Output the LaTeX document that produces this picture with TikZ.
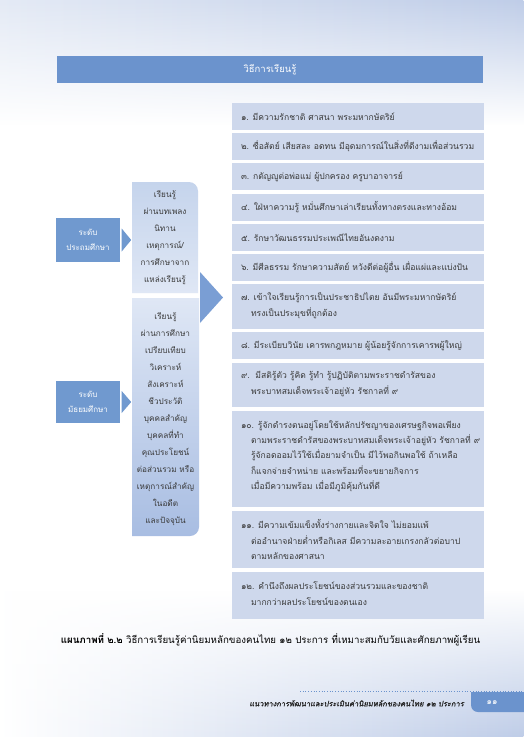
\documentclass[tikz,border=0pt]{standalone}
\usepackage{fontspec}
\newfontfamily\thai[Script=Thai]{Loma}
\newfontfamily\thaibold[Script=Thai]{Loma Bold}
\newfontfamily\thaiit[Script=Thai,FakeSlant=0.2,FakeBold=1.2]{Loma}
\usetikzlibrary{fadings}
\definecolor{headblue}{HTML}{6B93CD}
\definecolor{lvlblue}{HTML}{7099CF}
\definecolor{boxfill}{HTML}{CED8EC}
\definecolor{txtgray}{HTML}{3A3A3A}
\definecolor{bgA}{HTML}{E4EAF5}
\definecolor{bgB}{HTML}{BFCDE8}
\definecolor{arrowblue}{HTML}{7A9ED4}
\definecolor{midA}{HTML}{C5D4EC}
\definecolor{midB}{HTML}{DFE7F5}
\definecolor{midC}{HTML}{A8BDE2}
\tikzset{
  rbox/.style={fill=boxfill, minimum width=252pt, inner sep=0pt},
  rtxt/.style={anchor=west, inner sep=0pt, align=left, text=txtgray, font=\thai\fontsize{8.6}{15.3}\selectfont},
  lvlbox/.style={fill=lvlblue, minimum width=64pt, minimum height=44pt, inner sep=0pt, align=center,
    text=white, font=\thai\fontsize{8}{15}\selectfont},
  midtext/.style={align=center, text=txtgray, inner sep=0pt, font=\thai\fontsize{8.2}{17}\selectfont},
  chev/.style={fill=lvlblue},
}
\begin{document}
\begin{tikzpicture}[x=1pt,y=-1pt]
\useasboundingbox (0,0) rectangle (524,737);
\fill[white] (0,0) rectangle (524,737);
% background sweeps
\shade[left color=bgA, right color=bgB, path fading=south] (0,0) rectangle (524,125);
\shade[left color=white, right color=bgB, path fading=north] (0,590) rectangle (524,737);

% header
\node[fill=headblue, minimum width=426pt, minimum height=27pt, inner sep=0pt, text=white,
  font=\thai\fontsize{9.5}{11}\selectfont] (head) at (270,69.5) {วิธีการเรียนรู้};

% right boxes
\node[rbox, minimum height=27pt] (r1) at (358,116.5) {};
\node[rbox, minimum height=27pt] (r2) at (358,146.5) {};
\node[rbox, minimum height=27pt] (r3) at (358,176.5) {};
\node[rbox, minimum height=27pt] (r4) at (358,207.5) {};
\node[rbox, minimum height=27pt] (r5) at (358,237.5) {};
\node[rbox, minimum height=27pt] (r6) at (358,267.5) {};
\node[rbox, minimum height=45pt] (r7) at (358,306.5) {};
\node[rbox, minimum height=27pt] (r8) at (358,345.5) {};
\node[rbox, minimum height=44pt] (r9) at (358,385) {};
\node[rbox, minimum height=96pt] (r10) at (358,459) {};
\node[rbox, minimum height=57pt] (r11) at (358,539.5) {};
\node[rbox, minimum height=47pt] (r12) at (358,595.5) {};

\node[rtxt] (t1) at ([xshift=9pt]r1.west) {๑. มีความรักชาติ ศาสนา พระมหากษัตริย์};
\node[rtxt] (t2) at ([xshift=9pt]r2.west) {๒. ซื่อสัตย์ เสียสละ อดทน มีอุดมการณ์ในสิ่งที่ดีงามเพื่อส่วนรวม};
\node[rtxt] (t3) at ([xshift=9pt]r3.west) {๓. กตัญญูต่อพ่อแม่ ผู้ปกครอง ครูบาอาจารย์};
\node[rtxt] (t4) at ([xshift=9pt]r4.west) {๔. ใฝ่หาความรู้ หมั่นศึกษาเล่าเรียนทั้งทางตรงและทางอ้อม};
\node[rtxt] (t5) at ([xshift=9pt]r5.west) {๕. รักษาวัฒนธรรมประเพณีไทยอันงดงาม};
\node[rtxt] (t6) at ([xshift=9pt]r6.west) {๖. มีศีลธรรม รักษาความสัตย์ หวังดีต่อผู้อื่น เผื่อแผ่และแบ่งปัน};
\node[rtxt] (t7) at ([xshift=9pt,yshift=1pt]r7.west) {๗. เข้าใจเรียนรู้การเป็นประชาธิปไตย อันมีพระมหากษัตริย์\\\hspace*{10pt}ทรงเป็นประมุขที่ถูกต้อง};
\node[rtxt] (t8) at ([xshift=9pt]r8.west) {๘. มีระเบียบวินัย เคารพกฎหมาย ผู้น้อยรู้จักการเคารพผู้ใหญ่};
\node[rtxt] (t9) at ([xshift=9pt,yshift=1pt]r9.west) {๙.\ \ มีสติรู้ตัว รู้คิด รู้ทำ รู้ปฏิบัติตามพระราชดำรัสของ\\\hspace*{10pt}พระบาทสมเด็จพระเจ้าอยู่หัว รัชกาลที่ ๙};
\node[rtxt] (t10) at ([xshift=9pt,yshift=3pt]r10.west) {๑๐. รู้จักดำรงตนอยู่โดยใช้หลักปรัชญาของเศรษฐกิจพอเพียง\\\hspace*{10pt}ตามพระราชดำรัสของพระบาทสมเด็จพระเจ้าอยู่หัว รัชกาลที่ ๙\\\hspace*{10pt}รู้จักอดออมไว้ใช้เมื่อยามจำเป็น มีไว้พอกินพอใช้ ถ้าเหลือ\\\hspace*{10pt}ก็แจกจ่ายจำหน่าย และพร้อมที่จะขยายกิจการ\\\hspace*{10pt}เมื่อมีความพร้อม เมื่อมีภูมิคุ้มกันที่ดี};
\node[rtxt] (t11) at ([xshift=9pt]r11.west) {๑๑. มีความเข้มแข็งทั้งร่างกายและจิตใจ ไม่ยอมแพ้\\\hspace*{10pt}ต่ออำนาจฝ่ายต่ำหรือกิเลส มีความละอายเกรงกลัวต่อบาป\\\hspace*{10pt}ตามหลักของศาสนา};
\node[rtxt] (t12) at ([xshift=9pt,yshift=2pt]r12.west) {๑๒. คำนึงถึงผลประโยชน์ของส่วนรวมและของชาติ\\\hspace*{10pt}มากกว่าผลประโยชน์ของตนเอง};

% middle boxes
\shade[top color=midA, bottom color=midB] (132,293) -- (132,182) -- (189,182) arc[start angle=270,end angle=360,radius=9] -- (198,293) -- cycle;
\shade[top color=midB, bottom color=midC] (132,298) -- (199,298) -- (199,527) arc[start angle=0,end angle=90,radius=9] -- (132,536) -- cycle;
\node[midtext] (m1) at (165,237.5) {เรียนรู้\\ผ่านบทเพลง\\นิทาน\\เหตุการณ์/\\การศึกษาจาก\\แหล่งเรียนรู้};
\node[midtext] (m2) at (165.5,419) {เรียนรู้\\ผ่านการศึกษา\\เปรียบเทียบ\\วิเคราะห์\\สังเคราะห์\\ชีวประวัติ\\บุคคลสำคัญ\\บุคคลที่ทำ\\คุณประโยชน์\\ต่อส่วนรวม หรือ\\เหตุการณ์สำคัญ\\ในอดีต\\และปัจจุบัน};

% big arrow
\coordinate (ba) at (200,272);
\coordinate (bb) at (200,323);
\coordinate (bt) at (223,297.5);
\fill[arrowblue] (ba) -- (bt) -- (bb) -- cycle;

% level boxes
\node[lvlbox] (l1) at (88,240) {ระดับ\\ประถมศึกษา};
\node[lvlbox, minimum height=42pt] (l2) at (88,402) {ระดับ\\มัธยมศึกษา};
\fill[chev] ([xshift=1.5pt,yshift=11.5pt]l1.east) -- ([xshift=11pt]l1.east) -- ([xshift=1.5pt,yshift=-11.5pt]l1.east) -- cycle;
\fill[chev] ([xshift=1.5pt,yshift=11pt]l2.east) -- ([xshift=11pt]l2.east) -- ([xshift=1.5pt,yshift=-11pt]l2.east) -- cycle;

% caption
\node[inner sep=0pt, text=black, font=\thai\fontsize{9.7}{11}\selectfont] (cap) at (270.5,640)
  {{\thaibold แผนภาพที่ ๒.๒} วิธีการเรียนรู้ค่านิยมหลักของคนไทย ๑๒ ประการ ที่เหมาะสมกับวัยและศักยภาพผู้เรียน};

% footer
\coordinate (dl) at (300,691);
\coordinate (dr) at (524,691);
\draw[headblue, dotted, line width=0.7pt] (dl) -- (dr);
\fill[headblue] (524,692) -- (471,692) -- (471,705) arc[start angle=180,end angle=90,radius=7] -- (524,712) -- cycle;
\node[inner sep=0pt, text=white, font=\thai\fontsize{8.5}{9}\selectfont] (pg) at (492,703) {๑๑};
\node[inner sep=0pt, anchor=east, text=black!85, font=\thaiit\fontsize{7.5}{9}\selectfont] (ft) at (464,703)
  {แนวทางการพัฒนาและประเมินค่านิยมหลักของคนไทย ๑๒ ประการ};
\end{tikzpicture}
\end{document}
